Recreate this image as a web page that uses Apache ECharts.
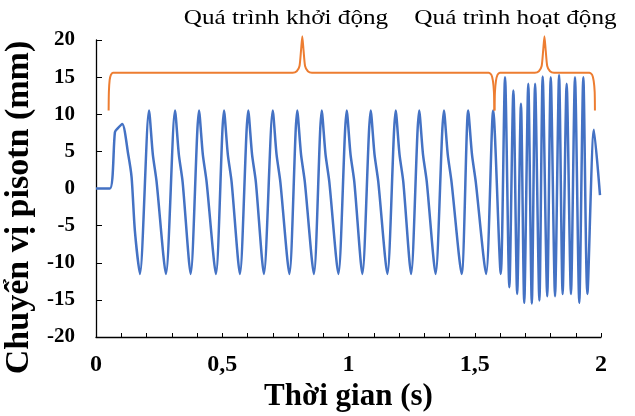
<!DOCTYPE html>
<html><head><meta charset="utf-8">
<script src="https://cdn.jsdelivr.net/npm/echarts@6/dist/echarts.min.js"></script>
<style>html,body{margin:0;padding:0;background:#fff}#c{width:635px;height:416px}</style>
</head><body><div id="c"></div><script>
// ---- data ----
const xTicks = [0, 0.5, 1, 1.5, 2];
const xTickLabels = ['0', '0,5', '1', '1,5', '2'];
const yTicks = [-20, -15, -10, -5, 0, 5, 10, 15, 20];

// start-up: rest, first rise, then slow cycles [time s, displacement mm]
const rampUp = [[0,0],[0.055,0],[0.075,7.6],[0.086,8.1],[0.104,8.7],[0.128,4.5],[0.141,1.5],[0.154,-5.7],[0.174,-11.5]];
const startupCycles = [
 [0.210,10.5],[0.225,4.6],[0.240,0.9],[0.277,-11.5],
 [0.313,10.5],[0.328,4.6],[0.343,0.9],[0.375,-11.5],
 [0.408,10.5],[0.423,4.6],[0.438,0.9],[0.475,-11.5],
 [0.507,10.5],[0.522,4.6],[0.537,0.9],[0.570,-11.5],
 [0.603,10.5],[0.618,4.6],[0.633,0.9],[0.665,-11.5],
 [0.700,10.5],[0.715,4.6],[0.730,0.9],[0.766,-11.5],
 [0.797,10.5],[0.812,4.6],[0.827,0.9],[0.863,-11.5],
 [0.894,10.5],[0.909,4.6],[0.924,0.9],[0.960,-11.5],
 [0.993,10.5],[1.008,4.6],[1.023,0.9],[1.055,-11.5],
 [1.088,10.5],[1.103,4.6],[1.118,0.9],[1.154,-11.5],
 [1.187,10.5],[1.202,4.6],[1.217,0.9],[1.248,-11.5],
 [1.280,10.5],[1.295,4.6],[1.310,0.9],[1.345,-11.5],
 [1.378,10.5],[1.393,4.6],[1.408,0.9],[1.448,-11.5],
 [1.474,10.5],[1.489,4.6],[1.504,0.9],[1.545,-11.5],
 [1.573,10.5],[1.603,-11.5]
];
// operating: fast cycles
const operatingCycles = [
 [1.620,15.0],[1.637,-13.3],[1.653,13.2],[1.668,-14.2],[1.683,11.4],[1.696,-15.4],
 [1.712,14.1],[1.726,-15.5],[1.739,14.1],[1.756,-15.1],[1.769,15.1],[1.787,-14.5],
 [1.801,15.0],[1.818,-14.5],[1.834,15.3],[1.848,-14.2],[1.864,14.1],[1.881,-14.2],
 [1.897,15.0],[1.914,-15.4],[1.930,15.0],[1.946,-14.2],[1.972,7.9],[1.996,-0.9]
];
// annotation braces (data coordinates)
const braceStartup = [[0.050,10.5],[0.051,13.0],[0.054,14.6],[0.059,15.3],[0.067,15.6],[0.076,15.6],
 [0.779,15.6],[0.795,15.8],[0.806,16.5],[0.812,18.6],[0.817,20.5],[0.822,18.6],[0.828,16.5],[0.839,15.8],[0.855,15.6],
 [1.555,15.6],[1.566,15.3],[1.572,14.5],[1.576,13.0],[1.578,10.5]];
const braceOperating = [[1.578,10.5],[1.580,13.0],[1.584,14.5],[1.590,15.3],[1.600,15.6],
 [1.738,15.6],[1.754,15.8],[1.765,16.5],[1.771,18.6],[1.776,20.5],[1.781,18.6],[1.787,16.5],[1.798,15.8],[1.814,15.6],
 [1.954,15.6],[1.965,15.3],[1.971,14.5],[1.975,13.0],[1.976,10.5]];
const annotations = ['Quá trình khởi động', 'Quá trình hoạt động'];

const chart = echarts.init(document.getElementById('c'), null, {renderer: 'canvas'});
const serif = '"Liberation Serif","Times New Roman",serif';
const blue = '#4472C4', orange = '#ED7D31';
const signal = rampUp.concat(startupCycles, operatingCycles);

chart.setOption({
  backgroundColor: '#fff',
  animation: false,
  grid: {left: 96, right: 34, top: 40, bottom: 79, containLabel: false, outerBoundsMode: 'none'},
  xAxis: {
    type: 'value', min: xTicks[0], max: xTicks[xTicks.length - 1], interval: 0.1,
    name: 'Thời gian (s)', nameLocation: 'middle', nameGap: 38,
    nameTextStyle: {fontFamily: serif, fontWeight: 'bold', fontSize: 31, color: '#000'},
    axisLine: {onZero: false, lineStyle: {color: '#000', width: 1.3}},
    axisTick: {inside: true, length: 4, lineStyle: {color: '#000', width: 1}},
    axisLabel: {
      margin: 16, fontFamily: serif, fontWeight: 'bold', fontSize: 24, color: '#000',
      formatter: v => { const i = xTicks.findIndex(t => Math.abs(t - v) < 1e-6); return i >= 0 ? xTickLabels[i] : ''; }
    },
    splitLine: {show: false}
  },
  yAxis: {
    type: 'value', min: yTicks[0], max: yTicks[yTicks.length - 1], interval: 5,
    name: 'Chuyển vị pisotn (mm)', nameLocation: 'middle', nameGap: 41,
    nameTextStyle: {fontFamily: serif, fontWeight: 'bold', fontSize: 34, color: '#000', padding: [0, 38, 0, 0]},
    axisLine: {show: true, onZero: false, lineStyle: {color: '#000', width: 1.3}},
    axisTick: {show: true, inside: true, length: 6, lineStyle: {color: '#000', width: 1}},
    axisLabel: {margin: 21, fontFamily: serif, fontWeight: 'bold', fontSize: 21, color: '#000'},
    splitLine: {show: false}
  },
  series: [
    {type: 'line', data: signal, showSymbol: false, smooth: 0.25,
     lineStyle: {color: blue, width: 2.5}, z: 2},
    {type: 'line', data: braceStartup, showSymbol: false, smooth: 0.2, clip: false,
     lineStyle: {color: orange, width: 2}, z: 3},
    {type: 'line', data: braceOperating, showSymbol: false, smooth: 0.2, clip: false,
     lineStyle: {color: orange, width: 2}, z: 3}
  ],
  graphic: [
    {type: 'text', x: 286, y: 18, scaleX: 1.2,
     style: {text: annotations[0], font: '21px ' + serif, fill: '#000', align: 'center', verticalAlign: 'middle', textAlign: 'center', textVerticalAlign: 'middle'}},
    {type: 'text', x: 515.5, y: 18, scaleX: 1.2,
     style: {text: annotations[1], font: '21px ' + serif, fill: '#000', align: 'center', verticalAlign: 'middle', textAlign: 'center', textVerticalAlign: 'middle'}}
  ]
});
</script></body></html>
